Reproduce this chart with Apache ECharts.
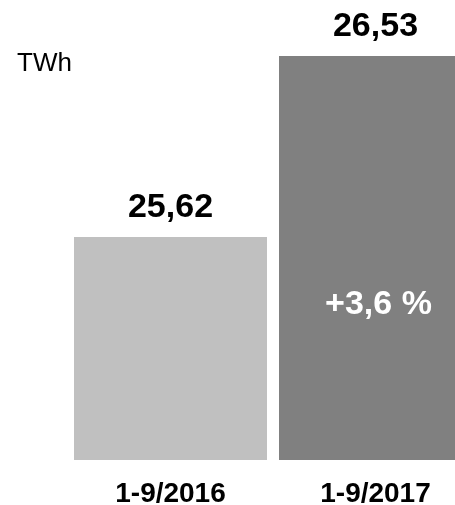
<!DOCTYPE html>
<html>
<head>
<meta charset="utf-8">
<script src="https://cdn.jsdelivr.net/npm/echarts@6/dist/echarts.min.js"></script>
<style>
  html, body { margin: 0; padding: 0; background: #fff; }
  #main { width: 455px; height: 505px; }
</style>
</head>
<body>
<div id="main"></div>
<script>
var categories = ['1-9/2016', '1-9/2017']
var values = [25.62, 26.53]
var barColors = ['#c0c0c0', '#808080']
var unit = 'TWh'

function fmt(v, d) {
  return v.toFixed(d).replace('.', ',')
}

var change = (values[1] / values[0] - 1) * 100
var changeText = '+' + fmt(change, 1) + ' %'

var chart = echarts.init(document.getElementById('main'))
chart.setOption({
  animation: false,
  title: {
    text: unit,
    left: 12,
    top: 46,
    textStyle: { fontFamily: 'Liberation Sans', fontWeight: 'normal', fontSize: 26, color: '#000' }
  },
  grid: { left: 68, top: 42, bottom: 45, right: -23, outerBoundsMode: 'none' },
  xAxis: {
    type: 'category',
    data: categories,
    axisLine: { show: false },
    axisTick: { show: false },
    axisLabel: {
      margin: 20,
      fontFamily: 'Liberation Sans',
      fontWeight: 'bold',
      fontSize: 28,
      color: '#000'
    }
  },
  yAxis: {
    type: 'value',
    min: 24.5,
    max: 26.6,
    show: false,
    splitLine: { show: false }
  },
  series: [{
    type: 'bar',
    barWidth: 193,
    data: values.map(function (v, i) {
      return { value: v, itemStyle: { color: barColors[i] } }
    }),
    label: {
      show: true,
      position: 'top',
      distance: 12,
      formatter: function (p) { return fmt(p.value, 2) },
      fontFamily: 'Liberation Sans',
      fontWeight: 'bold',
      fontSize: 34,
      color: '#000'
    },
    markPoint: {
      symbol: 'rect',
      symbolSize: 0,
      data: [{
        coord: [categories[1], 25.28],
        label: {
          show: true,
          position: 'inside',
          offset: [3, 0],
          formatter: changeText,
          fontFamily: 'Liberation Sans',
          fontWeight: 'bold',
          fontSize: 34,
          color: '#fff'
        }
      }]
    }
  }]
})
</script>
</body>
</html>
